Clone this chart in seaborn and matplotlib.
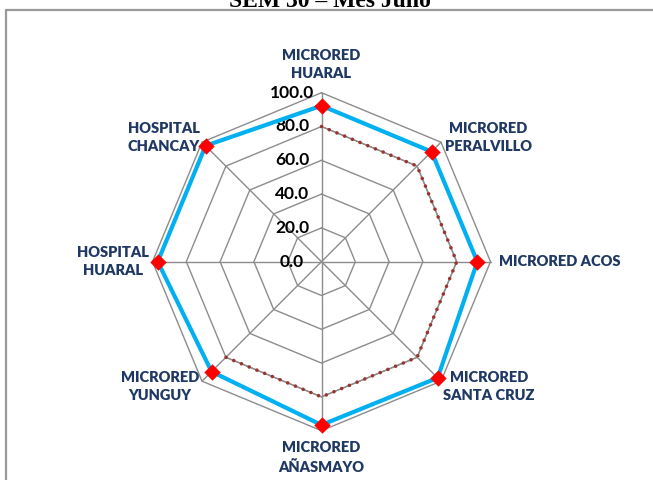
import numpy as np
import pandas as pd
import matplotlib
matplotlib.use("Agg")
import matplotlib.pyplot as plt
import seaborn as sns
from matplotlib.lines import Line2D

# ---------------- data ----------------
categories = ["MICRORED\nHUARAL", "MICRORED\nPERALVILLO", "MICRORED ACOS",
              "MICRORED\nSANTA CRUZ", "MICRORED\nAÑASMAYO", "MICRORED\nYUNGUY",
              "HOSPITAL\nHUARAL", "HOSPITAL\nCHANCAY"]
coverage = [92.3, 92.1, 92.2, 97.2, 96.6, 92.0, 96.9, 97.0]
meta = [80, 80, 80, 80, 80, 80, np.nan, np.nan]
ring_values = [20, 40, 60, 80, 100]
tick_values = [0, 20, 40, 60, 80, 100]
tick_labels = ["0.0", "20.0", "40.0", "60.0", "80.0", "100.0"]
title = "SEM 30 – Mes Julio"

sns.set_theme(style="white")
plt.rcParams["font.family"] = ["Lato", "DejaVu Sans"]

W, H = 653, 480
fig = plt.figure(figsize=(W / 100, H / 100), dpi=100)
fig.patch.set_facecolor("white")

cx, cy, R = 321.5, 261.7, 169.0
ax = fig.add_axes([(cx - R) / W, (H - cy - R) / H, 2 * R / W, 2 * R / H], projection="polar")
ax.set_theta_offset(np.pi / 2)
ax.set_theta_direction(-1)
ax.set_ylim(0, 100)
ax.grid(False)
ax.set_xticks([])
ax.set_yticks([])
ax.spines["polar"].set_visible(False)
ax.patch.set_alpha(0)

n = len(categories)
theta = np.arange(n) * 2 * np.pi / n
theta_closed = np.append(theta, 2 * np.pi)

grid_col = "#8C8C8C"
for r in ring_values:
    ax.plot(theta_closed, [r] * (n + 1), color=grid_col, lw=1.0, clip_on=False, zorder=1)
for t in theta:
    ax.plot([t, t], [0, 100], color=grid_col, lw=1.0, clip_on=False, zorder=1)

# meta series (dotted dark red)
df_meta = pd.DataFrame({"theta": theta, "meta": meta}).dropna()
sns.lineplot(data=df_meta, x="theta", y="meta", ax=ax, color="#8C8C8C", lw=0.9,
             sort=False, legend=False, zorder=2)
sns.lineplot(data=df_meta, x="theta", y="meta", ax=ax, color="#9B3330", lw=2.6,
             linestyle=(0, (0.01, 2.3)), dash_capstyle="round", sort=False,
             legend=False, zorder=3)

# coverage series
df_cov = pd.DataFrame({"theta": theta_closed, "cov": coverage + [coverage[0]]})
sns.lineplot(data=df_cov, x="theta", y="cov", ax=ax, color="#00B0F0", lw=3.0,
             sort=False, legend=False, zorder=4)
sns.scatterplot(x=theta, y=coverage, ax=ax, marker="D", s=70, color="#FF0000",
                edgecolor="#FF0000", linewidth=0, zorder=5, legend=False, clip_on=False)
ax.set_xlabel("")
ax.set_ylabel("")

# category labels (offsets in pixels from r=100 vertex)
offsets = [(0, 28, "center"), (47, 5, "center"), (8.5, 0, "left"), (48, -5, "center"),
           (0, -27, "center"), (-42, -5, "center"), (-40, 0, "center"), (-38, 5, "center")]
for t, lab, (dx, dy, ha) in zip(theta, categories, offsets):
    ax.annotate(lab, xy=(t, 100), xytext=(dx, dy), textcoords="offset pixels",
                ha=ha, va="center", multialignment="center", fontsize=10.5,
                fontweight="heavy", color="#1F3864", annotation_clip=False, linespacing=1.45)

# radial tick labels
for v, s in zip(tick_values, tick_labels):
    ax.annotate(s, xy=(0, v), xytext=(-29.5, 0), textcoords="offset pixels",
                ha="center", va="center", fontsize=12.5, fontweight="bold",
                color="black", annotation_clip=False)

# frame and title
fig.add_artist(Line2D([6 / W, 1], [1 - 10 / H, 1 - 10 / H], transform=fig.transFigure,
                      color="#9A9A9A", lw=1.6))
fig.add_artist(Line2D([6 / W, 6 / W], [0, 1 - 10 / H], transform=fig.transFigure,
                      color="#9A9A9A", lw=1.6))
fig.text(330 / W, 1 - 7 / H, title, ha="center", va="baseline", fontsize=17,
         fontweight="bold", family=["Liberation Serif", "DejaVu Serif"], color="black")

fig.savefig("out.png", dpi=100, facecolor="white")
